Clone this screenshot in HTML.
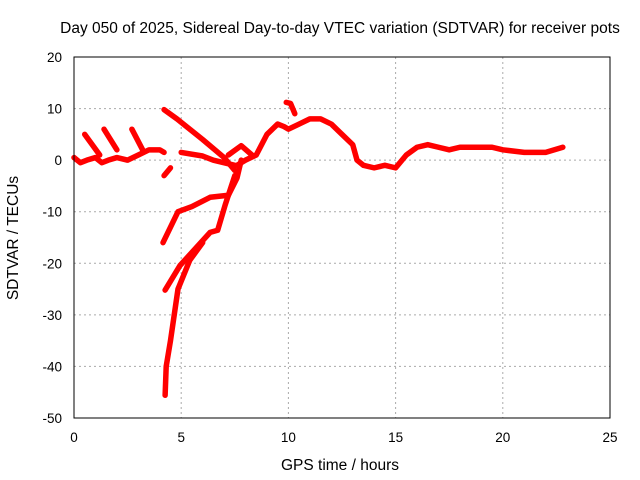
<!DOCTYPE html>
<html><head><meta charset="utf-8"><style>
body{margin:0;background:#fff;}
svg{display:block;font-family:"Liberation Sans",sans-serif;}
</style></head><body>
<svg id="chart" width="640" height="480">
<rect width="640" height="480" fill="#fff"/>
<text x="340" y="33" font-size="15.5" text-anchor="middle">Day 050 of 2025, Sidereal Day-to-day VTEC variation (SDTVAR) for receiver pots</text>
<text x="0" y="0" font-size="15.5" text-anchor="middle" transform="translate(18,238) rotate(-90)">SDTVAR / TECUs</text>
<text x="340" y="470" font-size="15.5" text-anchor="middle">GPS time / hours</text>
<g id="grid"></g><g id="series"></g>
<rect x="74" y="57" width="536" height="361" fill="none" stroke="#000" stroke-width="1"/>
</svg>
<script>
const xTicks=[0,5,10,15,20,25];
const yTicks=[-50,-40,-30,-20,-10,0,10,20];
const mainX=[0,0.3,0.6,1,1.3,1.6,2,2.5,3,3.5,4,4.2];
const mainY=[0.5,-0.5,0,0.5,-0.5,0,0.5,0,1,2,2,1.5];
const mainX2=[7.6,8,8.5,9,9.5,9.8,10,10.5,11,11.5,12,12.5,13,13.2,13.5,14,14.5,15,15.5,16,16.5,17,17.5,18,19,19.5,20,21,22,22.8];
const mainY2=[-1,0,1,5,7,6.5,6,7,8,8,7,5,3,0,-1,-1.5,-1,-1.5,1,2.5,3,2.5,2,2.5,2.5,2.5,2,1.5,1.5,2.5];
const spikeX=[9.9,10.1,10.3];
const spikeY=[11.2,11,9];
const arcX=[0.5,1.2];const arcY=[5,1];
const arc2X=[1.4,2];const arc2Y=[6,2];
const arc3X=[2.7,3.2];const arc3Y=[6,2];
const topX=[4.2,4.8,6,7,7.5];const topY=[9.8,8,4,0.5,-2];
const midX=[5,6,6.5,7.5];const midY=[1.5,0.8,0,-1];
const humpX=[7.2,7.8,8.3];const humpY=[1,2.8,1];
const s5X=[4.15,4.5,4.85,5.5,6.35,7.2,7.6,7.8];const s5Y=[-16,-13,-10,-9,-7.2,-6.8,-3.5,0];
const s6X=[4.25,4.95,6.35,6.7,7.05,7.5];const s6Y=[-25.2,-20.4,-14,-13.6,-8.7,-3];
const s7X=[4.25,4.3,4.5,4.85,5.4,6];const s7Y=[-45.6,-40,-35,-25,-19.4,-16];
const s8X=[4.2,4.5];const s8Y=[-3,-1.5];
const xs=v=>74+v*536/25, ys=v=>57+(20-v)*361/70;
const NS="http://www.w3.org/2000/svg";
const g=document.getElementById('grid'), s=document.getElementById('series');
function mk(t,a,p){const e=document.createElementNS(NS,t);for(const k in a)e.setAttribute(k,a[k]);p.appendChild(e);return e;}
xTicks.forEach(v=>{
 const l=mk('line',{x1:xs(v),x2:xs(v),y1:57,y2:418,stroke:'#aaa','stroke-dasharray':'2,3'},g);
 
 
 const t=mk('text',{x:xs(v),y:442,'font-size':13.5,'text-anchor':'middle'},g);t.textContent=v;
 
 
});
yTicks.forEach(v=>{
 const l=mk('line',{x1:74,x2:610,y1:ys(v),y2:ys(v),stroke:'#aaa','stroke-dasharray':'2,3'},g);
 
 
 const t=mk('text',{x:62,y:ys(v)+5,'font-size':13.5,'text-anchor':'end'},g);t.textContent=v;
 
 
});
[[mainX,mainY],[mainX2,mainY2],[spikeX,spikeY],[arcX,arcY],[arc2X,arc2Y],[arc3X,arc3Y],[topX,topY],[midX,midY],[humpX,humpY],[s5X,s5Y],[s6X,s6Y],[s7X,s7Y],[s8X,s8Y]].forEach(([X,Y])=>{
 const d=X.map((x,i)=>(i?'L':'M')+xs(x)+','+ys(Y[i])).join(' ');
 const p=mk('path',{d:d,fill:'none',stroke:'#f00','stroke-width':5.5,'stroke-linejoin':'round','stroke-linecap':'round'},s);
 
 
});
</script>
</body></html>
